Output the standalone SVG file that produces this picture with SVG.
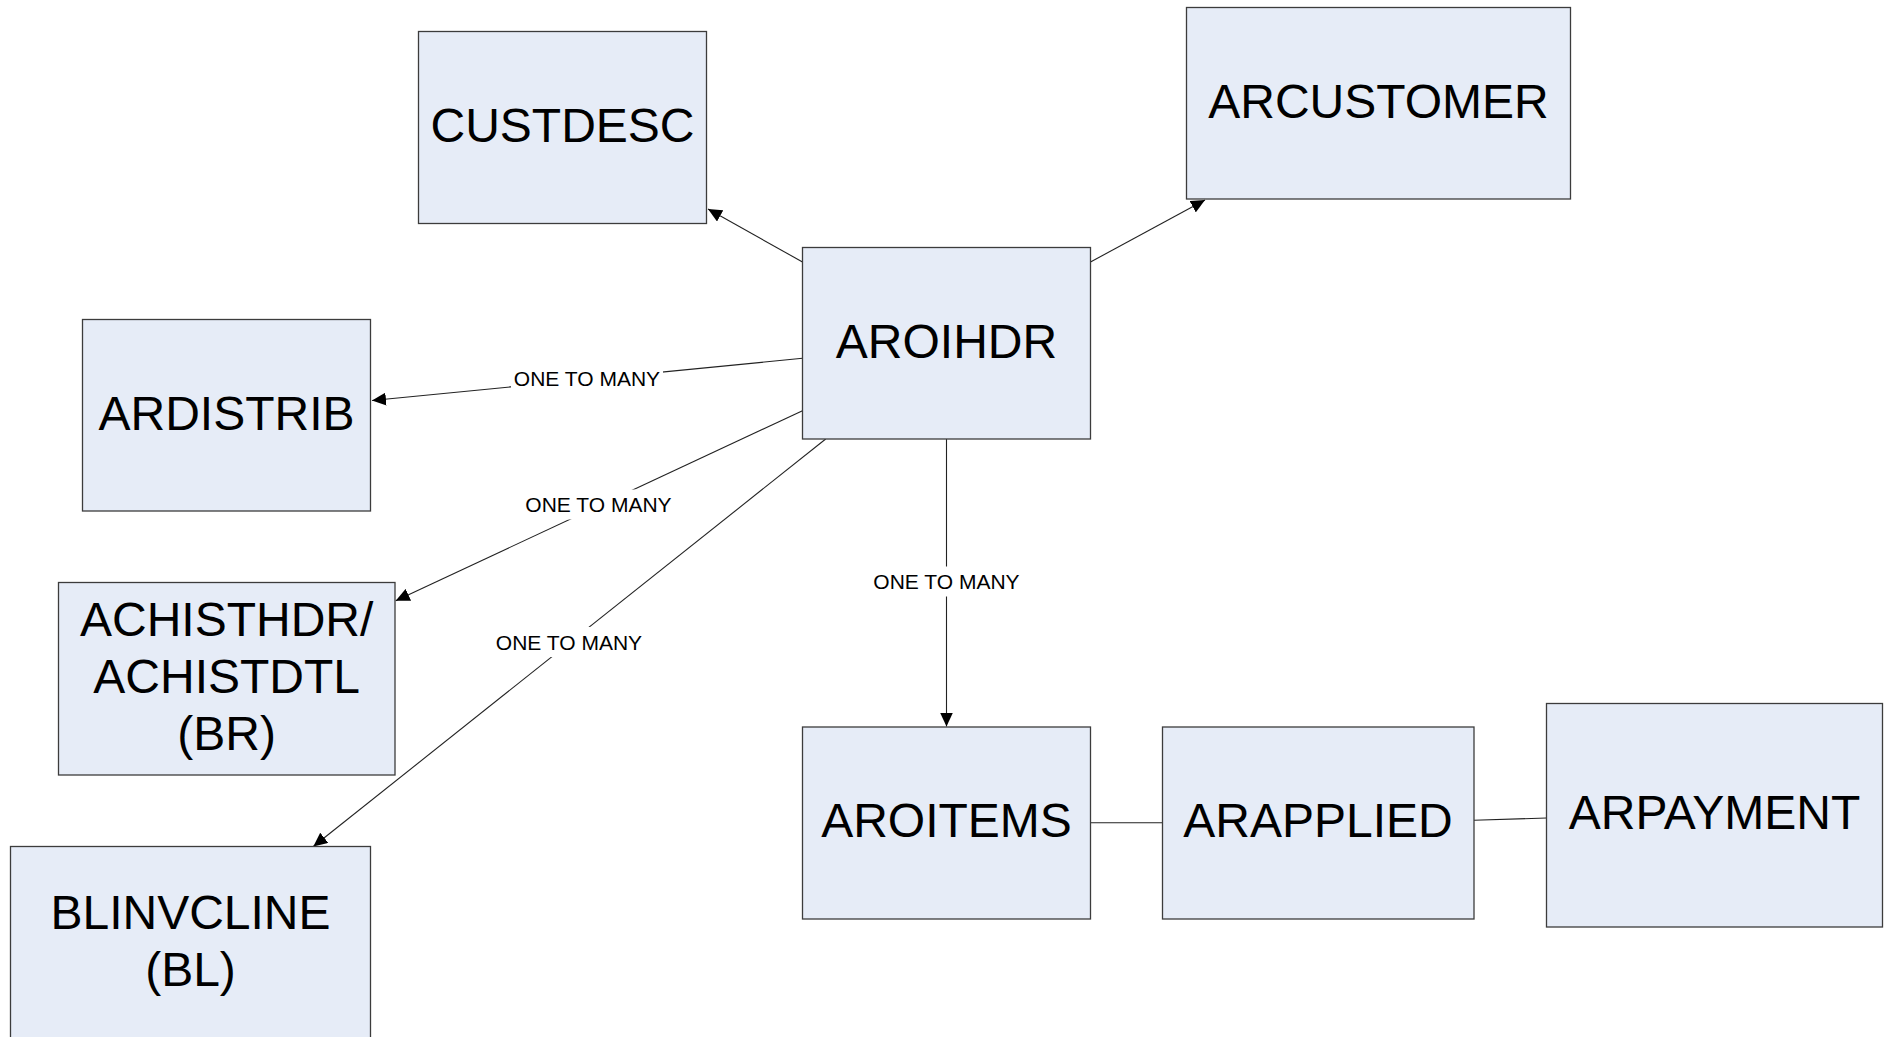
<svg xmlns="http://www.w3.org/2000/svg" width="1891" height="1037" viewBox="0 0 1891 1037">
  <defs>
    <marker id="arrow" viewBox="0 0 14 13" refX="14" refY="6.5" markerWidth="14" markerHeight="13" markerUnits="userSpaceOnUse" orient="auto">
      <path d="M0,0 L14,6.5 L0,13 z" fill="#000"/>
    </marker>
    <style>
      .box { fill: #e6ecf7; stroke: #3c3c3c; stroke-width: 1.3; }
      .name { font-family: "Liberation Sans", Arial, sans-serif; font-size: 48px; fill: #000; text-anchor: middle; }
      .conn { stroke: #222; stroke-width: 1.1; fill: none; }
      .lblbg { fill: #fff; stroke: none; }
      .lbl { font-family: "Liberation Sans", Arial, sans-serif; font-size: 21px; fill: #000; text-anchor: middle; }
    </style>
  </defs>
  <rect x="0" y="0" width="1891" height="1037" fill="#fff"/>

  <g id="connectors">
    <line class="conn" x1="802.5" y1="262" x2="708" y2="209" marker-end="url(#arrow)"/>
    <line class="conn" x1="1090.5" y1="262" x2="1205" y2="200" marker-end="url(#arrow)"/>
    <line class="conn" x1="802.5" y1="358.3" x2="372" y2="400.5" marker-end="url(#arrow)"/>
    <line class="conn" x1="802.5" y1="410.7" x2="395.7" y2="600.7" marker-end="url(#arrow)"/>
    <line class="conn" x1="825.7" y1="439" x2="313.3" y2="846.5" marker-end="url(#arrow)"/>
    <line class="conn" x1="946.5" y1="439" x2="946.5" y2="726.5" marker-end="url(#arrow)"/>
    <line class="conn" x1="1090.5" y1="822.7" x2="1162.5" y2="822.7"/>
    <line class="conn" x1="1474" y1="820.3" x2="1546.5" y2="818"/>

    <rect class="lblbg" x="511" y="363.5" width="152" height="30"/>
    <text class="lbl" x="587" y="386">ONE TO MANY</text>
    <rect class="lblbg" x="522.5" y="489.5" width="152" height="30"/>
    <text class="lbl" x="598.5" y="512">ONE TO MANY</text>
    <rect class="lblbg" x="493" y="627" width="152" height="30"/>
    <text class="lbl" x="569" y="649.5">ONE TO MANY</text>
    <rect class="lblbg" x="870.5" y="566.5" width="152" height="30"/>
    <text class="lbl" x="946.5" y="589">ONE TO MANY</text>
  </g>

  <g id="CUSTDESC">
    <rect class="box" x="418.5" y="31.5" width="288" height="192"/>
    <text class="name" x="562.5" y="142">CUSTDESC</text>
  </g>
  <g id="ARCUSTOMER">
    <rect class="box" x="1186.5" y="7.5" width="384" height="191.5"/>
    <text class="name" x="1378.5" y="118">ARCUSTOMER</text>
  </g>
  <g id="AROIHDR">
    <rect class="box" x="802.5" y="247.5" width="288" height="191.5"/>
    <text class="name" x="946.5" y="357.5">AROIHDR</text>
  </g>
  <g id="ARDISTRIB">
    <rect class="box" x="82.5" y="319.5" width="288" height="191.5"/>
    <text class="name" x="226.5" y="429.5">ARDISTRIB</text>
  </g>
  <g id="ACHISTHDR">
    <rect class="box" x="58.5" y="582.5" width="336.5" height="192.5"/>
    <text class="name" x="226.7" y="636">ACHISTHDR/</text>
    <text class="name" x="226.7" y="693">ACHISTDTL</text>
    <text class="name" x="226.7" y="750">(BR)</text>
  </g>
  <g id="BLINVCLINE">
    <rect class="box" x="10.5" y="846.5" width="360" height="192"/>
    <text class="name" x="190.5" y="929">BLINVCLINE</text>
    <text class="name" x="190.5" y="986">(BL)</text>
  </g>
  <g id="AROITEMS">
    <rect class="box" x="802.5" y="727" width="288" height="192"/>
    <text class="name" x="946.5" y="837">AROITEMS</text>
  </g>
  <g id="ARAPPLIED">
    <rect class="box" x="1162.5" y="727" width="311.5" height="192"/>
    <text class="name" x="1318" y="837">ARAPPLIED</text>
  </g>
  <g id="ARPAYMENT">
    <rect class="box" x="1546.5" y="703.5" width="336" height="223.5"/>
    <text class="name" x="1714.5" y="828.5">ARPAYMENT</text>
  </g>
</svg>
